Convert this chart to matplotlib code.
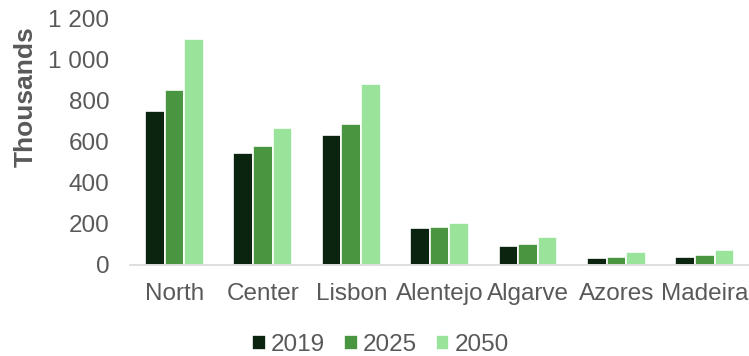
import matplotlib.pyplot as plt
import numpy as np
from matplotlib.ticker import FuncFormatter

plt.rcParams['font.family'] = ['Liberation Sans', 'DejaVu Sans']

regions = ['North', 'Center', 'Lisbon', 'Alentejo', 'Algarve', 'Azores', 'Madeira']
years = ['2019', '2025', '2050']
v2019 = [750, 544, 632, 177, 92, 33, 39]
v2025 = [852, 580, 686, 183, 100, 39, 47]
v2050 = [1098, 665, 881, 203, 135, 63, 70]

colors = ['#0b2410', '#4a953f', '#99e39b']
grey = '#595959'

fig = plt.figure(figsize=(7.49, 3.56), dpi=100)
ax = fig.add_axes([0.174, 0.256, 0.826, 0.693])

x = np.arange(len(regions))
step = 0.222
for i, (vals, yr) in enumerate(zip([v2019, v2025, v2050], years)):
    ax.bar(x + (i - 1) * step, vals, width=step, color=colors[i],
           edgecolor='white', linewidth=1.2, label=yr, zorder=2)

ax.set_xlim(-0.5, 6.5)
ax.set_ylim(0, 1200)
ax.set_yticks(range(0, 1201, 200))
ax.yaxis.set_major_formatter(FuncFormatter(lambda v, p: f'{int(v):,}'.replace(',', ' ')))
ax.set_xticks(x)
ax.set_xticklabels(regions)

for s in ['top', 'right', 'left']:
    ax.spines[s].set_visible(False)
ax.spines['bottom'].set_color('#d9d9d9')
ax.spines['bottom'].set_linewidth(1.2)
ax.tick_params(axis='y', length=0, pad=15, labelsize=17.5, labelcolor=grey)
ax.tick_params(axis='x', length=0, pad=13, labelsize=17.5, labelcolor=grey)

fig.text(0.034, 1 - 97 / 356, 'Thousands', rotation=90, ha='center', va='center',
         fontsize=19, fontweight='bold', color=grey)

fig.legend(loc='center', bbox_to_anchor=(0.508, 0.03), ncol=3, frameon=False,
           fontsize=17.5, labelcolor=grey, handlelength=0.55, handleheight=0.55,
           handletextpad=0.2, columnspacing=0.8)

fig.savefig('out.png', dpi=100)
